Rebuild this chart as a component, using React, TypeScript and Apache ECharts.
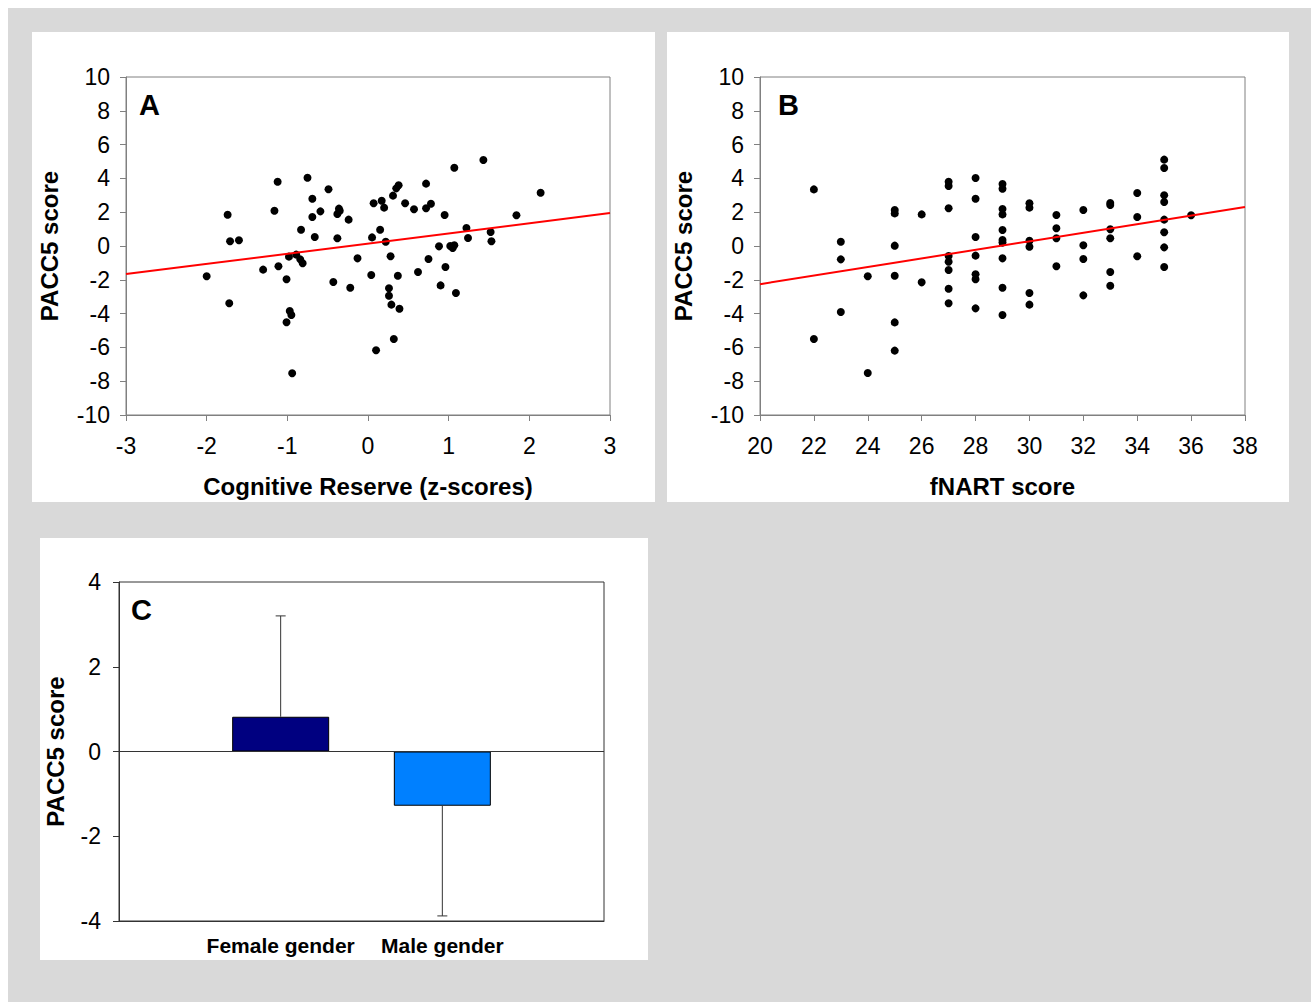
import React, { useEffect, useRef } from "react";
import * as echarts from "echarts";

// Panel A: Cognitive Reserve (z-scores) vs PACC5 score
const cognitiveReserve = [
  -1.12, -0.75, -0.49, -1.74, -1.16, -0.69, -0.59, -0.69, -0.36, -0.35, -0.38, -0.24, -0.83, -0.66, -0.38,
  -1.71, -1.6, -0.98, -0.89, -0.84, -0.81, -0.13, -2.0, -1.3, -1.11, -1.01, -0.43, -0.22, -1.72, -0.97,
  -0.95, -1.01, -0.94,
  1.43, 1.07, 0.38, 0.35, 0.72, 0.31, 0.07, 0.17, 0.2, 0.46, 0.57, 0.72, 0.78, 0.95, 2.14, 1.84, 0.15,
  0.05, 0.22, 1.22, 1.24, 1.52, 1.53, 0.88, 1.02, 1.07, 1.05, 0.28, 0.75, 0.96, 0.04, 0.37, 0.62, 0.9,
  1.09, 0.26, 0.26, 0.29, 0.39, 0.32, 0.1,
];
const paccA = [
  3.8, 4.04, 3.36, 1.85, 2.09, 2.8, 2.05, 1.72, 2.21, 2.09, 1.89, 1.56, 0.96, 0.53, 0.46,
  0.28, 0.34, -0.63, -0.51, -0.79, -1.02, -0.73, -1.79, -1.4, -1.2, -1.97, -2.13, -2.47, -3.39, -3.85,
  -4.08, -4.51, -7.53,
  5.09, 4.63, 3.59, 3.41, 3.69, 2.98, 2.53, 2.68, 2.27, 2.53, 2.17, 2.23, 2.5, 1.83, 3.15, 1.82, 0.96,
  0.51, 0.25, 1.07, 0.47, 0.83, 0.28, -0.02, 0.0, 0.04, -0.12, -0.61, -0.77, -1.24, -1.72, -1.76, -1.54, -2.33,
  -2.78, -2.5, -2.94, -3.47, -3.71, -5.5, -6.17,
];
const fitA = [
  [-3, -1.66],
  [3, 1.95],
];

// Panel B: fNART score vs PACC5 score
const fnart = [
  22, 22,
  23, 23, 23,
  24, 24,
  25, 25, 25, 25, 25, 25,
  26, 26,
  27, 27, 27, 27, 27, 27, 27, 27,
  28, 28, 28, 28, 28, 28, 28,
  29, 29, 29, 29, 29, 29, 29, 29, 29, 29,
  30, 30, 30, 30, 30, 30,
  31, 31, 31, 31,
  32, 32, 32, 32,
  33, 33, 33, 33, 33, 33,
  34, 34, 34,
  35, 35, 35, 35, 35, 35, 35, 35,
  36,
];
const paccB = [
  3.35, -5.5,
  0.25, -0.79, -3.91,
  -1.79, -7.51,
  2.13, 1.93, 0.02, -1.76, -4.52, -6.19,
  1.87, -2.15,
  3.8, 3.55, 2.23, -0.59, -0.93, -1.42, -2.53, -3.39,
  4.02, 2.8, 0.53, -0.57, -1.67, -1.97, -3.69,
  3.67, 3.39, 2.19, 1.87, 0.95, 0.35, 0.2, -0.73, -2.47, -4.08,
  2.53, 2.27, 0.31, -0.04, -2.78, -3.47,
  1.83, 1.05, 0.46, -1.2,
  2.13, 0.04, -0.77, -2.92,
  2.54, 2.43, 0.99, 0.46, -1.54, -2.35,
  3.14, 1.72, -0.61,
  5.11, 4.62, 3.0, 2.6, 1.56, 0.81, -0.08, -1.24,
  1.82,
];
const fitB = [
  [20, -2.26],
  [38, 2.31],
];

// Panel C: gender means with SD
const genderCategories = ["Female gender", "Male gender"];
const genderMeans = [0.82, -1.28];
const genderErrors = [2.38, 2.6];
const genderColors = ["#000080", "#0080ff"];

const FONT = "'Liberation Sans', Arial, sans-serif";
const AXIS_GRAY = "#808080";

function valueAxis(gridIndex: number, min: number, max: number, interval: number, name: string, isY: boolean, nameGap: number, margin: number, lineColor: string) {
  return {
    type: "value",
    gridIndex,
    min,
    max,
    interval,
    name,
    nameLocation: "middle",
    nameGap,
    nameRotate: isY ? 90 : 0,
    nameTextStyle: { fontSize: 24, fontWeight: "bold", color: "#000", fontFamily: FONT },
    axisLine: { show: true, onZero: false, lineStyle: { color: lineColor, width: 1 } },
    axisTick: { show: true, inside: false, length: 6, lineStyle: { color: lineColor, width: 1 } },
    axisLabel: { fontSize: 23, color: "#000", margin, fontFamily: FONT },
    splitLine: { show: false },
  };
}

export default function App() {
  const ref = useRef<HTMLDivElement>(null);

  useEffect(() => {
    if (!ref.current) return;
    const chart = echarts.init(ref.current, undefined, { renderer: "svg" });

    const scatterA = cognitiveReserve.map((x, i) => [x, paccA[i]]);
    const scatterB = fnart.map((x, i) => [x, paccB[i]]);
    const barData = ["-", ...genderMeans.map((m, i) => ({ value: m, itemStyle: { color: genderColors[i] } })), "-"];
    const errData = genderMeans.map((m, i) => [i + 1, m, m + Math.sign(m) * genderErrors[i]]);

    chart.setOption({
      animation: false,
      backgroundColor: "transparent",
      textStyle: { fontFamily: FONT },
      grid: [
        { left: 118, top: 69, width: 484, height: 338, show: true, borderColor: AXIS_GRAY, borderWidth: 1, backgroundColor: "transparent" },
        { left: 752, top: 69, width: 485, height: 338, show: true, borderColor: AXIS_GRAY, borderWidth: 1, backgroundColor: "transparent" },
        { left: 111, top: 574, width: 485, height: 339, show: true, borderColor: "#333", borderWidth: 1, backgroundColor: "transparent" },
      ],
      xAxis: [
        valueAxis(0, -3, 3, 1, "Cognitive Reserve (z-scores)", false, 59, 19, AXIS_GRAY),
        valueAxis(1, 20, 38, 2, "fNART score", false, 59, 19, AXIS_GRAY),
        {
          type: "category",
          gridIndex: 2,
          data: ["", ...genderCategories, ""],
          boundaryGap: false,
          axisLine: { show: true, onZero: false, lineStyle: { color: "#333" } },
          axisTick: { show: false },
          axisLabel: { interval: 0, fontSize: 21, fontWeight: "bold", color: "#000", margin: 14, fontFamily: FONT },
          splitLine: { show: false },
        },
      ],
      yAxis: [
        valueAxis(0, -10, 10, 2, "PACC5 score", true, 65, 16, AXIS_GRAY),
        valueAxis(1, -10, 10, 2, "PACC5 score", true, 65, 16, AXIS_GRAY),
        valueAxis(2, -4, 4, 2, "PACC5 score", true, 52, 18, "#333"),
      ],
      series: [
        {
          type: "scatter",
          xAxisIndex: 0,
          yAxisIndex: 0,
          data: scatterA,
          symbolSize: 8,
          itemStyle: { color: "#000", opacity: 1 },
        },
        {
          type: "line",
          xAxisIndex: 0,
          yAxisIndex: 0,
          data: fitA,
          showSymbol: false,
          symbol: "none",
          lineStyle: { color: "#ff0000", width: 2 },
          z: 3,
        },
        {
          type: "scatter",
          xAxisIndex: 1,
          yAxisIndex: 1,
          data: scatterB,
          symbolSize: 8,
          itemStyle: { color: "#000", opacity: 1 },
        },
        {
          type: "line",
          xAxisIndex: 1,
          yAxisIndex: 1,
          data: fitB,
          showSymbol: false,
          symbol: "none",
          lineStyle: { color: "#ff0000", width: 2 },
          z: 3,
        },
        {
          type: "bar",
          xAxisIndex: 2,
          yAxisIndex: 2,
          data: barData,
          barWidth: 97,
          itemStyle: { borderColor: "#000", borderWidth: 1 },
          markLine: {
            silent: true,
            symbol: ["none", "none"],
            label: { show: false },
            lineStyle: { color: "#333", type: "solid", width: 1 },
            data: [{ yAxis: 0 }],
          },
        },
        {
          type: "custom",
          xAxisIndex: 2,
          yAxisIndex: 2,
          data: errData,
          encode: { x: 0, y: [1, 2] },
          z: 5,
          renderItem: (_params: any, api: any) => {
            const x = api.value(0);
            const a = api.coord([x, api.value(1)]);
            const b = api.coord([x, api.value(2)]);
            const style = { stroke: "#333", lineWidth: 1 };
            return {
              type: "group",
              children: [
                { type: "line", shape: { x1: a[0], y1: a[1], x2: b[0], y2: b[1] }, style },
                { type: "line", shape: { x1: b[0] - 5, y1: b[1], x2: b[0] + 5, y2: b[1] }, style },
              ],
            };
          },
        },
      ],
      graphic: [
        { type: "text", left: 131, top: 82, style: { text: "A", font: `bold 29px ${FONT}`, fill: "#000" } },
        { type: "text", left: 770, top: 82, style: { text: "B", font: `bold 29px ${FONT}`, fill: "#000" } },
        { type: "text", left: 123, top: 587, style: { text: "C", font: `bold 29px ${FONT}`, fill: "#000" } },
      ],
    });

    return () => chart.dispose();
  }, []);

  const panel = (left: number, top: number, width: number, height: number) => (
    <div style={{ position: "absolute", left, top, width, height, background: "#ffffff" }} />
  );

  return (
    <div style={{ position: "fixed", left: 8, top: 8, width: 1303, height: 994, background: "#d9d9d9", overflow: "hidden" }}>
      {panel(24, 24, 623, 470)}
      {panel(659, 24, 622, 470)}
      {panel(32, 530, 608, 422)}
      <div ref={ref} style={{ position: "absolute", left: 0, top: 0, width: 1303, height: 994 }} />
    </div>
  );
}
